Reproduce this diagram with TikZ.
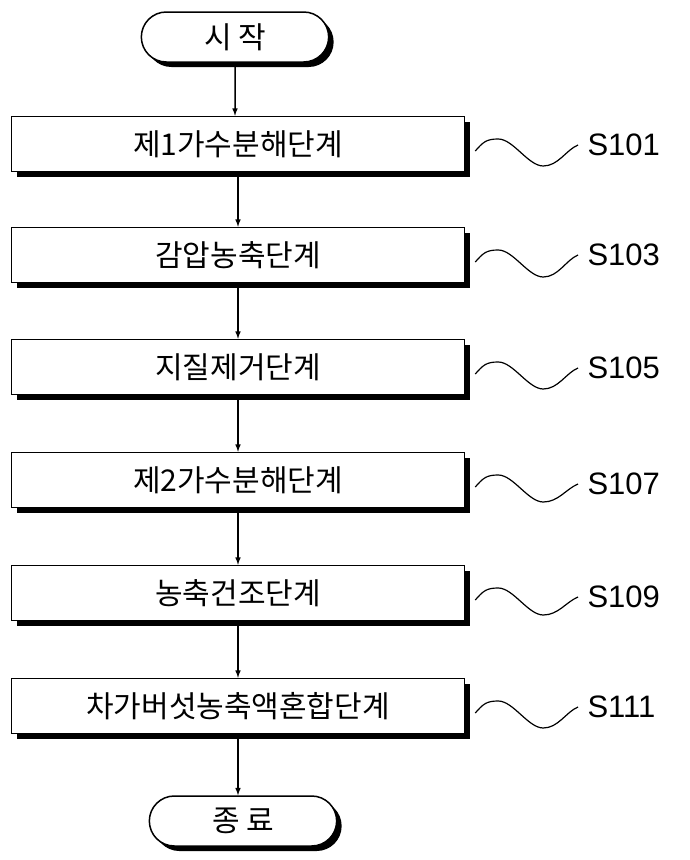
\documentclass[tikz,border=0pt]{standalone}
\usepackage{fontspec}
\setmainfont{Noto Sans CJK KR}
\newfontfamily\labfont{Liberation Sans}
\usetikzlibrary{shadows,shapes.misc}
\tikzset{
  stage/.style={draw, line width=1.5pt, fill=white, minimum width=453pt, minimum height=55pt,
    font=\fontsize{30}{30}\selectfont, drop shadow={shadow xshift=5pt, shadow yshift=-5pt, opacity=1, fill=black}},
  term/.style={stage, rounded rectangle, minimum width=194pt, minimum height=50pt},
  steplabel/.style={font=\labfont\fontsize{31}{31}\selectfont},
  flow/.style={line width=1.5pt, -latex}
}
\begin{document}
\begin{tikzpicture}[x=1pt,y=-1pt]
  \useasboundingbox (0,0) rectangle (689,860);
  %Ablauf
  \node[term] (start) at (235,37) {시 작};
  \node[stage] (s1) at (238,144) {제1가수분해단계};
  \node[stage] (s2) at (238,255) {감압농축단계};
  \node[stage] (s3) at (238,367) {지질제거단계};
  \node[stage] (s4) at (238,480) {제2가수분해단계};
  \node[stage] (s5) at (238,593) {농축건조단계};
  \node[stage] (s6) at (238,706) {차가버섯농축액혼합단계};
  \node[term] (end) at (243,821) {종 료};
  \draw[flow] (start) -- (start |- s1.north);
  \draw[flow] (s1) -- (s2);
  \draw[flow] (s2) -- (s3);
  \draw[flow] (s3) -- (s4);
  \draw[flow] (s4) -- (s5);
  \draw[flow] (s5) -- (s6);
  \draw[flow] (s6.south) -- (s6.south |- end.north);
  %Beschriftung
  \foreach \s/\t/\y in {s1/S101/145, s2/S103/255, s3/S105/368, s4/S107/484, s5/S109/597, s6/S111/707}{
    \node[steplabel, anchor=west] (l\s) at (584,\y) {\t};
    \draw[line width=1.2pt] ([xshift=10pt, yshift=-7pt]\s.east) .. controls +(8,-9) and +(-12,0) .. ++(23,-12)
      .. controls +(15,0) and +(-15,0) .. ++(45,27)
      .. controls +(15,0) and +(-12,5) .. ([xshift=-6pt]l\s.west);
  }
\end{tikzpicture}
\end{document}
